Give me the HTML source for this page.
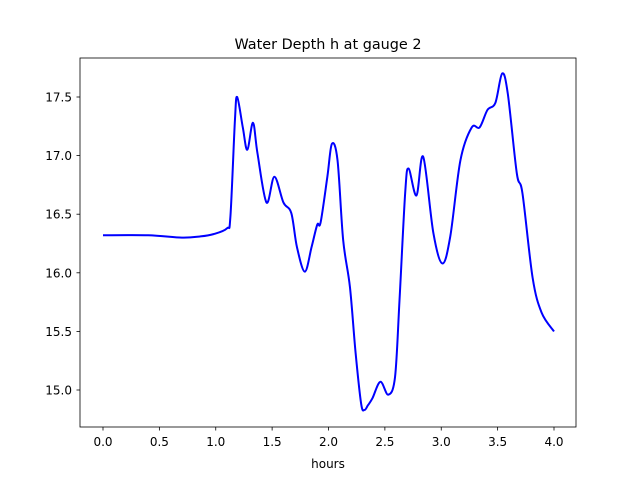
<!DOCTYPE html>
<html><head><meta charset="utf-8"><style>
body{margin:0;background:#fff;}
svg text{font-family:"DejaVu Sans","Liberation Sans",sans-serif;fill:#000;}
</style></head><body>
<svg id="chart" width="640" height="480" xmlns="http://www.w3.org/2000/svg">
<rect width="640" height="480" fill="#fff"/>
<text x="328" y="49" font-size="14.4" text-anchor="middle">Water Depth h at gauge 2</text>
<g id="ticks"></g>
<path id="line" fill="none" stroke="#0000ff" stroke-width="2" stroke-linejoin="round"/>
<rect x="80" y="58" width="496" height="369" fill="none" stroke="#000" stroke-width="0.8"/>
<text x="328" y="468" font-size="12" text-anchor="middle">hours</text>
</svg>
<script>
const times=[0,0.4,0.7,0.86,0.98,1.10,1.13,1.17,1.19,1.24,1.28,1.33,1.37,1.45,1.52,1.60,1.67,1.72,1.79,1.85,1.90,1.93,1.99,2.03,2.08,2.13,2.19,2.24,2.29,2.32,2.35,2.39,2.46,2.53,2.59,2.63,2.68,2.71,2.78,2.84,2.93,3.01,3.08,3.17,3.27,3.34,3.41,3.48,3.54,3.59,3.67,3.72,3.81,3.89,4.0];
const depths=[16.32,16.32,16.30,16.31,16.33,16.38,16.48,17.30,17.50,17.24,17.05,17.28,17.02,16.60,16.82,16.60,16.51,16.22,16.01,16.22,16.41,16.43,16.82,17.10,16.96,16.28,15.88,15.32,14.88,14.83,14.87,14.93,15.07,14.96,15.11,15.77,16.68,16.89,16.66,16.99,16.34,16.08,16.31,16.96,17.24,17.24,17.39,17.45,17.70,17.53,16.85,16.68,15.96,15.66,15.50];
const xTicks=[0,0.5,1,1.5,2,2.5,3,3.5,4];
const yTicks=[15.0,15.5,16.0,16.5,17.0,17.5];
const NS="http://www.w3.org/2000/svg";
function X(t){return 103+t*112.75;}
function Y(h){return 390-(h-15)*117.2;}
const g=document.getElementById('ticks');
xTicks.forEach(t=>{
 const l=document.createElementNS(NS,'line');
 
 
 l.setAttribute('x1',X(t));l.setAttribute('x2',X(t));l.setAttribute('y1',427);l.setAttribute('y2',430.5);l.setAttribute('stroke','#000');l.setAttribute('stroke-width','0.8');g.appendChild(l);
 const tx=document.createElementNS(NS,'text');
 
 
 tx.setAttribute('x',X(t));tx.setAttribute('y',446);tx.setAttribute('font-size','12');tx.setAttribute('text-anchor','middle');tx.textContent=t.toFixed(1);g.appendChild(tx);
});
yTicks.forEach(h=>{
 const l=document.createElementNS(NS,'line');
 
 
 l.setAttribute('x1',76.5);l.setAttribute('x2',80);l.setAttribute('y1',Y(h));l.setAttribute('y2',Y(h));l.setAttribute('stroke','#000');l.setAttribute('stroke-width','0.8');g.appendChild(l);
 const tx=document.createElementNS(NS,'text');
 
 
 tx.setAttribute('x',72);tx.setAttribute('y',Y(h)+4.5);tx.setAttribute('font-size','12');tx.setAttribute('text-anchor','end');tx.textContent=h.toFixed(1);g.appendChild(tx);
});
const pts=times.map((t,i)=>[X(t),Y(depths[i])]);
let d='M'+pts[0][0]+','+pts[0][1];
for(let i=0;i<pts.length-1;i++){
 const p0=pts[i-1]||pts[i],p1=pts[i],p2=pts[i+1],p3=pts[i+2]||p2;
 const c1=[p1[0]+(p2[0]-p0[0])/6,p1[1]+(p2[1]-p0[1])/6];
 const c2=[p2[0]-(p3[0]-p1[0])/6,p2[1]-(p3[1]-p1[1])/6];
 d+=` C${c1[0]},${c1[1]} ${c2[0]},${c2[1]} ${p2[0]},${p2[1]}`;
}
document.getElementById('line').setAttribute('d',d);
</script>
</body></html>
